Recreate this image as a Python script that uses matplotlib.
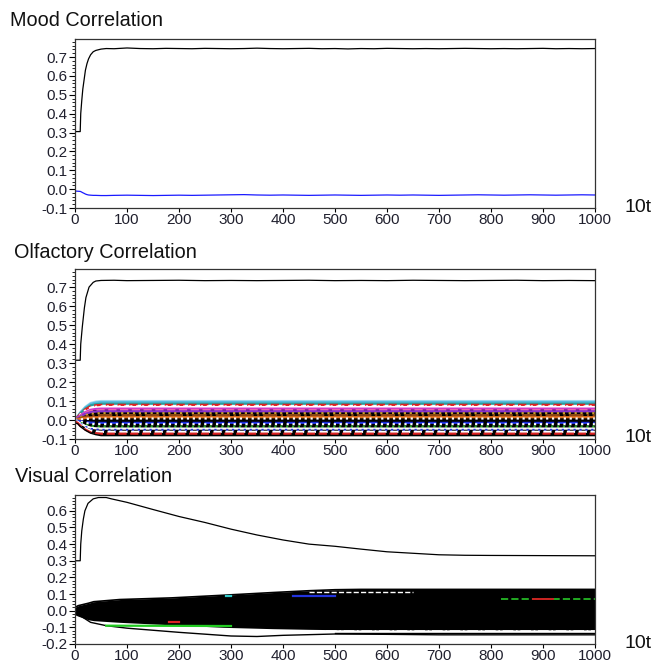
import numpy as np
import matplotlib
matplotlib.use("Agg")
import matplotlib.pyplot as plt
from matplotlib.ticker import MultipleLocator

# ======================================================
# DATA
# ======================================================

mood_t = [0, 10, 11, 13, 15, 18, 20, 23, 26, 30, 35, 40, 50, 60, 75,
          100, 125, 150, 175, 200, 225, 250, 275, 300, 325, 350, 375,
          400, 425, 450, 475, 500, 525, 550, 575, 600, 625, 650, 675,
          700, 725, 750, 775, 800, 825, 850, 875, 900, 925, 950, 975, 1000]

mood_main = [0.305, 0.305, 0.40, 0.47, 0.53, 0.59, 0.63, 0.665, 0.69, 0.712,
             0.728, 0.735, 0.742, 0.745, 0.744,
             0.748, 0.745, 0.744, 0.746, 0.745, 0.744, 0.746, 0.745, 0.744,
             0.745, 0.747, 0.745, 0.744, 0.745, 0.746, 0.744, 0.745, 0.743,
             0.745, 0.744, 0.746, 0.745, 0.744, 0.745, 0.744, 0.745, 0.746,
             0.745, 0.744, 0.745, 0.744, 0.745, 0.746, 0.744, 0.745, 0.744, 0.745]

mood_other = [-0.010, -0.012, -0.013, -0.016, -0.019, -0.023, -0.026, -0.029,
              -0.031, -0.032, -0.033, -0.033, -0.034, -0.034, -0.033,
              -0.032, -0.033, -0.034, -0.033, -0.032, -0.033, -0.032, -0.031,
              -0.030, -0.029, -0.031, -0.032, -0.031, -0.032, -0.033, -0.032,
              -0.031, -0.032, -0.033, -0.032, -0.031, -0.032, -0.031, -0.032,
              -0.033, -0.032, -0.031, -0.030, -0.031, -0.032, -0.031, -0.030,
              -0.031, -0.032, -0.031, -0.030, -0.031]

olf_t = [0, 10, 11, 14, 18, 21, 27, 35, 40, 50, 75, 100, 150, 200, 250, 300,
         350, 400, 450, 500, 550, 600, 650, 700, 750, 800, 850, 900, 950, 1000]

olf_main = [0.315, 0.315, 0.40, 0.49, 0.59, 0.645, 0.70, 0.725, 0.732, 0.735,
            0.736, 0.734, 0.735, 0.736, 0.734, 0.735, 0.734, 0.735, 0.736,
            0.734, 0.735, 0.734, 0.736, 0.735, 0.734, 0.735, 0.736, 0.734,
            0.735, 0.734]

# fan-out of the many small olfactory traces
olf_band_t = [0, 5, 10, 20, 30, 40, 50, 1000]
olf_band_upper = [0.012, 0.015, 0.025, 0.045, 0.058, 0.063, 0.065, 0.065]
olf_band_lower = [-0.012, -0.015, -0.030, -0.050, -0.065, -0.073, -0.078, -0.078]
olf_fan = [0.10, 0.20, 0.40, 0.70, 0.90, 0.97, 1.00, 1.00]

olf_levels = [0.100, 0.095, 0.086, 0.080, 0.072, 0.060, 0.053, 0.046, 0.036,
              0.026, 0.015, 0.008, -0.015, -0.022, -0.035, -0.045, -0.052,
              -0.062, -0.072]
olf_colors = ["#a8dcf0", "#55bde0", "#2a9d9d", "#dd2222", "white", "#cc33cc",
              "#ee66aa", "#8833cc", "#c8a030", "#8b4513", "#e07020", "white",
              "#2233dd", "white", "#22aa22", "white", "#2233dd", "white",
              "#dd2222"]
olf_styles = ["-", "-", "-", "--", ":", "-", "--", "-", ":", "-.", "-", ":",
              "--", ":", ":", "-", ":", "--", "--"]

vis_t = [0, 10, 11, 13, 16, 19, 25, 35, 45, 60, 70, 100, 150, 200, 250, 300,
         350, 400, 450, 500, 550, 600, 650, 700, 750, 800, 900, 1000]

vis_main = [0.30, 0.30, 0.40, 0.48, 0.55, 0.60, 0.645, 0.672, 0.68, 0.68, 0.672,
            0.651, 0.608, 0.566, 0.530, 0.490, 0.455, 0.425, 0.400, 0.387,
            0.370, 0.354, 0.345, 0.336, 0.333, 0.332, 0.331, 0.330]

vis_band_t = [0, 6, 26, 36, 86, 186, 286, 380, 450, 500, 550, 700, 1000]
vis_band_upper = [0.020, 0.030, 0.045, 0.054, 0.067, 0.077, 0.093, 0.109,
                  0.120, 0.126, 0.128, 0.128, 0.128]
vis_band_lower = [-0.025, -0.033, -0.055, -0.060, -0.070, -0.085, -0.100,
                  -0.108, -0.112, -0.114, -0.115, -0.115, -0.115]

vis_outer_t = [0, 10, 30, 60, 100, 200, 300, 350, 400, 500, 600, 700, 1000]
vis_outer = [-0.015, -0.030, -0.070, -0.090, -0.105, -0.130, -0.152, -0.155,
             -0.148, -0.140, -0.142, -0.145, -0.145]

# ======================================================
# FIGURE
# ======================================================

plt.rcParams["font.family"] = ["Liberation Sans", "DejaVu Sans"]

TEXT = "#20202e"

fig = plt.figure(figsize=(6.54, 6.65), dpi=100)

ax1 = fig.add_axes([0.1147, 0.6872, 0.795, 0.254])
ax2 = fig.add_axes([0.1147, 0.3398, 0.795, 0.2556])
ax3 = fig.add_axes([0.1147, 0.0316, 0.795, 0.224])


def style_axis(ax, ymin, ymax):
    ax.set_xlim(0, 1000)
    ax.set_ylim(ymin, ymax)
    ax.xaxis.set_major_locator(MultipleLocator(100))
    ax.yaxis.set_major_locator(MultipleLocator(0.1))
    ax.yaxis.set_minor_locator(MultipleLocator(0.02))
    ax.yaxis.set_major_formatter(plt.FormatStrFormatter("%.1f"))
    ax.tick_params(axis="both", which="major", direction="out", length=4,
                   width=0.8, labelsize=11, labelcolor=TEXT, pad=1.5)
    ax.tick_params(axis="x", which="major", length=3, pad=0.5)
    ax.tick_params(axis="y", which="minor", direction="out", length=2,
                   width=0.6)
    for s in ax.spines.values():
        s.set_color("#333333")
        s.set_linewidth(0.9)


# ======================================================
# MOOD
# ======================================================

ax1.plot(mood_t, mood_main, color="black", lw=0.9)
ax1.plot(mood_t, mood_other, color="#1a1aff", lw=0.9)
style_axis(ax1, -0.1, 0.795)

# ======================================================
# OLFACTORY
# ======================================================

ax2.fill_between(olf_band_t, olf_band_lower, olf_band_upper,
                 color="black", lw=0)
for lvl, col, ls in zip(olf_levels, olf_colors, olf_styles):
    y = [lvl * f for f in olf_fan]
    ax2.plot(olf_band_t, y, color=col, lw=1.6, ls=ls)
ax2.plot(olf_band_t, [v - 0.004 for v in olf_band_lower], color="black", lw=1.0)
ax2.plot(olf_t, olf_main, color="black", lw=0.9)
style_axis(ax2, -0.1, 0.795)

# ======================================================
# VISUAL
# ======================================================

ax3.fill_between(vis_band_t, vis_band_lower, vis_band_upper,
                 color="black", lw=0)
ax3.plot(vis_band_t, vis_band_upper, color="black", lw=1.2)
ax3.plot(vis_outer_t, vis_outer, color="black", lw=1.0)

# a few visible streaks inside the black band
ax3.plot([60, 300], [-0.090, -0.092], color="#22cc22", lw=1.6)
ax3.plot([180, 200], [-0.070, -0.070], color="#dd2222", lw=1.6)
ax3.plot([420, 500], [0.088, 0.088], color="#2233dd", lw=1.6)
ax3.plot([290, 300], [0.090, 0.090], color="#33cccc", lw=1.6)
ax3.plot([820, 1000], [0.070, 0.070], color="#22aa22", lw=1.4, ls="--")
ax3.plot([880, 920], [0.070, 0.070], color="#cc2222", lw=1.4)
ax3.plot([450, 650], [0.110, 0.110], color="white", lw=1.0, ls="--")
ax3.plot([380, 1000], [-0.120, -0.120], color="white", lw=1.2, ls="-.")
ax3.plot([500, 1000], [-0.132, -0.132], color="black", lw=1.0)

ax3.plot(vis_t, vis_main, color="black", lw=0.9)
style_axis(ax3, -0.2, 0.695)

# ======================================================
# LABELS
# ======================================================

fig.text(10 / 654, 1 - 20 / 665, "Mood Correlation", fontsize=14.3,
         color="#111111", va="center", ha="left")
fig.text(14 / 654, 1 - 252 / 665, "Olfactory Correlation", fontsize=14.3,
         color="#111111", va="center", ha="left")
fig.text(15 / 654, 1 - 476 / 665, "Visual Correlation", fontsize=14.3,
         color="#111111", va="center", ha="left")

for yc in [208, 437, 643]:
    fig.text(624 / 654, 1 - yc / 665, "10t", fontsize=14,
             color="#111111", va="center", ha="left")

fig.savefig("out.png", dpi=100, facecolor="white")
